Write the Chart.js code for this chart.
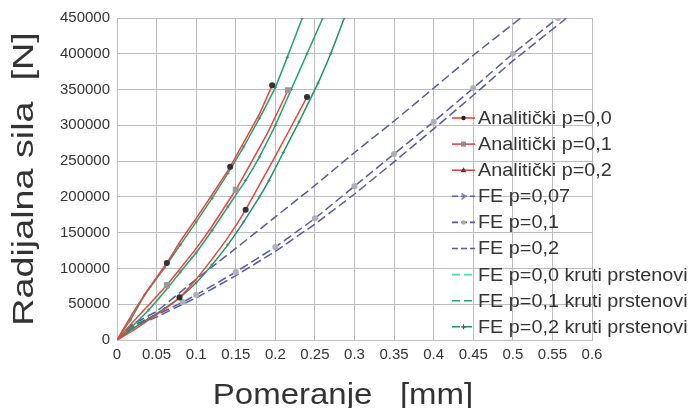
<!DOCTYPE html>
<html>
<head>
<meta charset="utf-8">
<script src="https://cdn.jsdelivr.net/npm/chart.js@4.4.1/dist/chart.umd.min.js"></script>
<style>
  html, body { margin: 0; padding: 0; background: #ffffff; }
  #wrap { width: 697px; height: 408px; }
</style>
</head>
<body>
<div id="wrap"><canvas id="c" width="697" height="408"></canvas></div>
<script>
// ---- data ----
const xTicks = [0, 0.05, 0.1, 0.15, 0.2, 0.25, 0.3, 0.35, 0.4, 0.45, 0.5, 0.55, 0.6];
const yTicks = [0, 50000, 100000, 150000, 200000, 250000, 300000, 350000, 400000, 450000];

const labels = [
  "Analitički p=0,0", "Analitički p=0,1", "Analitički p=0,2",
  "FE p=0,07", "FE p=0,1", "FE p=0,2",
  "FE p=0,0 kruti prstenovi", "FE p=0,1 kruti prstenovi", "FE p=0,2 kruti prstenovi"
];

const an0X = [0, 0.02, 0.04, 0.063, 0.08, 0.1, 0.12, 0.143, 0.16, 0.18, 0.196];
const an0Y = [0, 38000, 72000, 107600, 138000, 170000, 203000, 242000, 276000, 316000, 356000];
const an1X = [0, 0.02, 0.04, 0.063, 0.08, 0.1, 0.12, 0.15, 0.17, 0.19, 0.216];
const an1Y = [0, 25000, 49000, 77000, 100000, 128000, 159000, 210000, 249000, 289000, 349000];
const an2X = [0, 0.02, 0.04, 0.06, 0.079, 0.1, 0.12, 0.14, 0.1625, 0.183, 0.2, 0.22, 0.24];
const an2Y = [0, 13000, 28000, 43000, 59500, 85000, 113000, 143000, 182000, 223000, 257000, 298000, 339600];

const fe07X = [0, 0.02, 0.05, 0.1, 0.15, 0.2, 0.25, 0.3, 0.35, 0.4, 0.45, 0.51];
const fe07Y = [0, 22000, 40000, 85000, 128000, 172000, 216000, 262000, 306000, 352000, 398000, 450000];
const fe1X = [0, 0.02, 0.05, 0.083, 0.1, 0.15, 0.2, 0.25, 0.3, 0.35, 0.4, 0.45, 0.5, 0.557];
const fe1Y = [0, 20000, 35000, 53000, 63000, 95000, 130000, 170000, 215000, 260000, 305000, 352000, 400000, 450000];
const fe2X = [0, 0.02, 0.05, 0.083, 0.1, 0.15, 0.2, 0.25, 0.3, 0.35, 0.4, 0.45, 0.5, 0.568];
const fe2Y = [0, 18000, 32000, 50000, 59000, 90000, 124000, 162000, 204000, 249000, 295000, 342000, 390000, 450000];

const kr0X = [0, 0.017, 0.035, 0.06, 0.08, 0.1, 0.12, 0.14, 0.16, 0.18, 0.2, 0.215, 0.234];
const kr0Y = [0, 28000, 63000, 101000, 133000, 165000, 198000, 233000, 270000, 310000, 353000, 395000, 450000];
const kr1X = [0, 0.02, 0.04, 0.065, 0.08, 0.1, 0.12, 0.14, 0.1625, 0.18, 0.2, 0.22, 0.24, 0.26];
const kr1Y = [0, 20000, 42000, 74000, 95000, 122000, 153000, 186000, 223000, 256000, 300000, 350000, 400000, 450000];
const kr2X = [0, 0.02, 0.04, 0.06, 0.08, 0.1, 0.12, 0.14, 0.16, 0.18, 0.192, 0.21, 0.23, 0.254, 0.27, 0.287];
const kr2Y = [0, 16000, 30000, 44000, 60000, 80000, 105000, 133000, 165000, 200000, 223000, 262000, 305000, 359000, 400000, 450000];

// ---- build ----
const pts = (xs, ys) => xs.map((x, i) => ({ x: x, y: ys[i] }));
const RED = '#e8453f', BLUE = '#565aa6', GREEN = '#1fa56e', GREEN_L = '#45dca2', GREEN_D = '#17936a';
const FONT = '"Liberation Sans", Arial, Helvetica, sans-serif';

function markAt(idx, r) { return ctx => idx.includes(ctx.dataIndex) ? r : 0; }

const datasets = [
  { label: labels[0], data: pts(an0X, an0Y), borderColor: RED, borderWidth: 1.5,
    pointStyle: 'circle', pointRadius: markAt([3, 7, 10], 2.3), pointBackgroundColor: '#333', pointBorderColor: '#333', order: 1 },
  { label: labels[1], data: pts(an1X, an1Y), borderColor: RED, borderWidth: 1.5,
    pointStyle: 'rect', pointRadius: markAt([3, 7, 10], 3.2), pointBackgroundColor: '#999', pointBorderColor: '#999', order: 1 },
  { label: labels[2], data: pts(an2X, an2Y), borderColor: RED, borderWidth: 1.5,
    pointStyle: 'circle', pointRadius: markAt([4, 8, 12], 2.3), pointBackgroundColor: '#333', pointBorderColor: '#333', order: 1 },
  { label: labels[3], data: pts(fe07X, fe07Y), borderColor: BLUE, borderWidth: 1.5, borderDash: [9, 4],
    pointRadius: 0, order: 3 },
  { label: labels[4], data: pts(fe1X, fe1Y), borderColor: BLUE, borderWidth: 1.5, borderDash: [9, 4],
    pointStyle: 'circle', pointRadius: markAt([3,4,5,6,7,8,9,10,11,12,13], 2.3), pointBackgroundColor: '#b0b0b8', pointBorderColor: '#b0b0b8', order: 3 },
  { label: labels[5], data: pts(fe2X, fe2Y), borderColor: BLUE, borderWidth: 1.5, borderDash: [9, 4],
    pointRadius: 0, order: 3 },
  { label: labels[6], data: pts(kr0X, kr0Y), borderColor: GREEN, borderWidth: 1.5,
    pointStyle: 'cross', pointRadius: 1.6, pointBorderColor: '#4a8a6a', pointBorderWidth: 1, order: 2 },
  { label: labels[7], data: pts(kr1X, kr1Y), borderColor: GREEN, borderWidth: 1.5,
    pointStyle: 'cross', pointRadius: 1.6, pointBorderColor: '#4a8a6a', pointBorderWidth: 1, order: 2 },
  { label: labels[8], data: pts(kr2X, kr2Y), borderColor: GREEN_D, borderWidth: 1.5,
    pointStyle: 'cross', pointRadius: 1.6, pointBorderColor: '#4a8a6a', pointBorderWidth: 1, order: 2 }
];
datasets.forEach(d => { d.fill = false; d.tension = 0.1; d.showLine = true; });

// legend sample styles (drawing only)
const legendStyle = [
  { c: RED, dash: [], m: 'dot', mc: '#222' },
  { c: RED, dash: [], m: 'sq', mc: '#8e8e8e' },
  { c: RED, dash: [], m: 'tri', mc: '#444' },
  { c: BLUE, dash: [6, 3], m: 'arrow', mc: '#8080b8' },
  { c: BLUE, dash: [6, 3], m: 'dot', mc: '#a9a9b4' },
  { c: BLUE, dash: [6, 3], m: null },
  { c: GREEN_L, dash: [8, 4], m: null },
  { c: GREEN, dash: [8, 4], m: null },
  { c: GREEN_D, dash: [8, 4], m: 'plus', mc: '#555' }
];

const overlay = {
  id: 'overlay',
  afterDraw(chart) {
    const ctx = chart.ctx;
    ctx.save();
    ctx.fillStyle = '#333';
    // y axis title
    ctx.save();
    ctx.translate(33, 179);
    ctx.rotate(-Math.PI / 2);
    ctx.scale(1.3, 1);
    ctx.font = '29px ' + FONT;
    ctx.textAlign = 'center';
    ctx.textBaseline = 'alphabetic';
    ctx.fillText('Radijalna sila  [N]', 0, 0);
    ctx.restore();
    // x axis title
    ctx.save();
    ctx.translate(343, 404);
    ctx.scale(1.1, 1);
    ctx.font = '30px ' + FONT;
    ctx.textAlign = 'center';
    ctx.textBaseline = 'alphabetic';
    ctx.fillText('Pomeranje   [mm]', 0, 0);
    ctx.restore();
    // legend
    const x0 = 452, x1 = 475, tx = 478, y0 = 118, dy = 26.1;
    chart.data.datasets.forEach((ds, i) => {
      const st = legendStyle[i];
      const y = y0 + i * dy;
      ctx.save();
      ctx.strokeStyle = st.c;
      ctx.lineWidth = 1.6;
      ctx.setLineDash(st.dash);
      ctx.beginPath();
      ctx.moveTo(x0, y);
      ctx.lineTo(x1, y);
      ctx.stroke();
      ctx.setLineDash([]);
      const mx = (x0 + x1) / 2;
      if (st.m === 'dot') { ctx.fillStyle = st.mc; ctx.beginPath(); ctx.arc(mx, y, 2.2, 0, Math.PI * 2); ctx.fill(); }
      if (st.m === 'sq') { ctx.fillStyle = st.mc; ctx.fillRect(mx - 2.5, y - 2.5, 5, 5); }
      if (st.m === 'tri') { ctx.fillStyle = st.mc; ctx.beginPath(); ctx.moveTo(mx, y - 3); ctx.lineTo(mx + 3, y + 2); ctx.lineTo(mx - 3, y + 2); ctx.closePath(); ctx.fill(); }
      if (st.m === 'arrow') { ctx.strokeStyle = st.mc; ctx.beginPath(); ctx.moveTo(mx - 2, y - 3); ctx.lineTo(mx + 2, y); ctx.lineTo(mx - 2, y + 3); ctx.stroke(); }
      if (st.m === 'plus') { ctx.strokeStyle = st.mc; ctx.lineWidth = 1.2; ctx.beginPath(); ctx.moveTo(mx - 2.5, y); ctx.lineTo(mx + 2.5, y); ctx.moveTo(mx, y - 2.5); ctx.lineTo(mx, y + 2.5); ctx.stroke(); }
      ctx.restore();
      ctx.save();
      ctx.fillStyle = '#333';
      ctx.translate(tx, y);
      ctx.scale(1.1, 1);
      ctx.font = '18px ' + FONT;
      ctx.textAlign = 'left';
      ctx.textBaseline = 'middle';
      ctx.fillText(ds.label, 0, 1);
      ctx.restore();
    });
    ctx.restore();
  }
};

new Chart(document.getElementById('c'), {
  type: 'line',
  data: { datasets: datasets },
  options: {
    responsive: false,
    animation: false,
    devicePixelRatio: 1,
    layout: { padding: { left: 0, top: 18, right: 105, bottom: 0 } },
    plugins: { legend: { display: false }, tooltip: { enabled: false } },
    scales: {
      x: {
        type: 'linear', min: 0, max: 0.6,
        afterBuildTicks: s => { s.ticks = xTicks.map(v => ({ value: v })); },
        afterFit: s => { s.height = 68; },
        grid: { color: '#bdbdbd', lineWidth: 1, drawTicks: false },
        border: { color: '#bdbdbd' },
        ticks: { color: '#333', padding: 6, maxRotation: 0, autoSkip: false,
          font: { family: FONT, size: 15 }, callback: v => String(v) }
      },
      y: {
        type: 'linear', min: 0, max: 450000,
        afterBuildTicks: s => { s.ticks = yTicks.map(v => ({ value: v })); },
        afterFit: s => { s.width = 117; },
        grid: { color: '#bdbdbd', lineWidth: 1, drawTicks: false },
        border: { color: '#bdbdbd' },
        ticks: { color: '#333', padding: 7, autoSkip: false,
          font: { family: FONT, size: 15 }, callback: v => String(v) }
      }
    }
  },
  plugins: [overlay]
});
</script>
</body>
</html>
